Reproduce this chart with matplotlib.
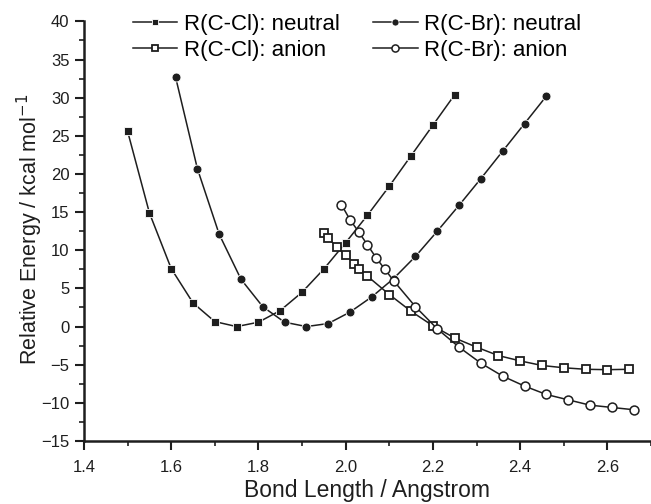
import matplotlib
matplotlib.use("Agg")
import matplotlib.pyplot as plt

plt.rcParams['font.family'] = ['Liberation Sans', 'DejaVu Sans']

# R(C-Cl): neutral
cl_neu_x = [1.50, 1.55, 1.60, 1.65, 1.70, 1.75, 1.80, 1.85, 1.90, 1.95, 2.00, 2.05, 2.10, 2.15, 2.20, 2.25]
cl_neu_y = [25.6, 14.9, 7.6, 3.1, 0.65, 0.0, 0.57, 2.1, 4.5, 7.55, 11.0, 14.6, 18.4, 22.4, 26.4, 30.4]

# R(C-Br): neutral
br_neu_x = [1.61, 1.66, 1.71, 1.76, 1.81, 1.86, 1.91, 1.96, 2.01, 2.06, 2.11, 2.16, 2.21, 2.26, 2.31, 2.36, 2.41, 2.46]
br_neu_y = [32.7, 20.7, 12.1, 6.2, 2.6, 0.57, 0.0, 0.4, 1.9, 3.9, 6.3, 9.2, 12.5, 15.9, 19.4, 23.0, 26.6, 30.2]

# R(C-Cl): anion
cl_an_x = [1.95, 1.96, 1.98, 2.00, 2.02, 2.03, 2.05, 2.10, 2.15, 2.20, 2.25, 2.30, 2.35, 2.40, 2.45, 2.50, 2.55, 2.60, 2.65]
cl_an_y = [12.2, 11.6, 10.4, 9.4, 8.2, 7.6, 6.6, 4.2, 2.0, 0.1, -1.5, -2.7, -3.8, -4.5, -5.1, -5.4, -5.6, -5.65, -5.6]

# R(C-Br): anion
br_an_x = [1.99, 2.01, 2.03, 2.05, 2.07, 2.09, 2.11, 2.16, 2.21, 2.26, 2.31, 2.36, 2.41, 2.46, 2.51, 2.56, 2.61, 2.66]
br_an_y = [16.0, 14.0, 12.4, 10.7, 9.0, 7.5, 6.0, 2.6, -0.3, -2.7, -4.8, -6.5, -7.8, -8.9, -9.6, -10.3, -10.6, -10.9]

x_ticks = [1.4, 1.6, 1.8, 2.0, 2.2, 2.4, 2.6]
x_tick_labels = ["1.4", "1.6", "1.8", "2.0", "2.2", "2.4", "2.6"]
y_ticks = [-15, -10, -5, 0, 5, 10, 15, 20, 25, 30, 35, 40]

INK = '#1e1e1e'

fig = plt.figure(figsize=(6.51, 5.04), dpi=100)
ax = fig.add_axes([0.129, 0.125, 0.871, 0.8325])

lw = 1.1
ax.plot(cl_neu_x, cl_neu_y, '-', color=INK, lw=lw, marker='s', ms=6.0,
        mfc=INK, mec='white', mew=0.6, label='R(C-Cl): neutral')
ax.plot(cl_an_x, cl_an_y, '-', color=INK, lw=lw, marker='s', ms=6.0,
        mfc='white', mec=INK, mew=1.3, label='R(C-Cl): anion')
ax.plot(br_neu_x, br_neu_y, '-', color=INK, lw=lw, marker='o', ms=6.4,
        mfc=INK, mec='white', mew=0.6, label='R(C-Br): neutral')
ax.plot(br_an_x, br_an_y, '-', color=INK, lw=lw, marker='o', ms=6.4,
        mfc='white', mec=INK, mew=1.1, label='R(C-Br): anion')

ax.set_xlim(1.4, 2.7)
ax.set_ylim(-15, 40)
ax.set_xticks(x_ticks)
ax.set_xticklabels(x_tick_labels)
ax.set_yticks(y_ticks)
ax.set_xticks([1.5, 1.7, 1.9, 2.1, 2.3, 2.5, 2.7], minor=True)
ax.set_yticks([-12.5, -7.5, -2.5, 2.5, 7.5, 12.5, 17.5, 22.5, 27.5, 32.5, 37.5], minor=True)

for s in ['top', 'right']:
    ax.spines[s].set_visible(False)
for s in ['left', 'bottom']:
    ax.spines[s].set_linewidth(1.8)
    ax.spines[s].set_color(INK)

ax.tick_params(axis='both', which='major', direction='out', length=6.5, width=1.5,
               labelsize=12, colors=INK)
ax.tick_params(axis='y', which='major', pad=4)
ax.tick_params(axis='x', which='major', pad=7)
ax.tick_params(axis='both', which='minor', direction='out', length=3.6, width=1.2,
               colors=INK)

ax.set_xlabel('Bond Length / Angstrom', fontsize=16.5, color=INK)
ax.set_ylabel('Relative Energy / kcal mol$^{-1}$', fontsize=15.5, color=INK)
ax.xaxis.set_label_coords(0.5, -0.09)
ax.yaxis.set_label_coords(-0.068, 0.505)

leg = ax.legend(ncol=2, loc='upper left', bbox_to_anchor=(0.204, 0.972),
                bbox_transform=fig.transFigure, frameon=False,
                fontsize=16, markerscale=0.8, handlelength=2.0, handletextpad=0.3,
                columnspacing=1.5, labelspacing=0.22, borderaxespad=0, borderpad=0)

fig.savefig('out.png', dpi=100)
